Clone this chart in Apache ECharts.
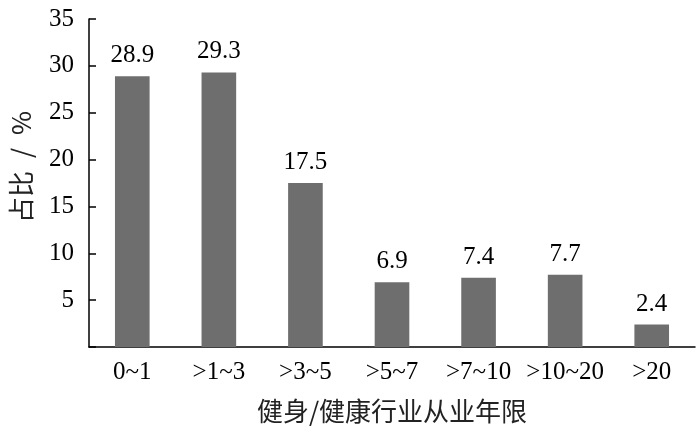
<!DOCTYPE html>
<html><head><meta charset="utf-8">
<script src="https://cdn.jsdelivr.net/npm/echarts@6/dist/echarts.min.js"></script>
<style>html,body{margin:0;padding:0;background:#fff}#c{width:700px;height:433px}</style>
</head><body><div id="c"></div>
<script>
const categories = ['0~1', '>1~3', '>3~5', '>5~7', '>7~10', '>10~20', '>20'];
const values = [28.9, 29.3, 17.5, 6.9, 7.4, 7.7, 2.4];
const yTicks = [0, 5, 10, 15, 20, 25, 30, 35];
const serif = '"Liberation Serif","Times New Roman",serif';
const cjk = '"Noto Sans CJK SC",sans-serif';
const chart = echarts.init(document.getElementById('c'), null, {renderer: 'canvas'});
chart.setOption({
  animation: false,
  grid: {left: 85, right: 5, top: 19, bottom: 86},
  xAxis: {
    type: 'category', data: categories,
    axisLine: {lineStyle: {color: '#000', width: 1.5}},
    axisTick: {inside: true, length: 7, alignWithLabel: false, lineStyle: {color: '#000', width: 1.5}},
    axisLabel: {color: '#000', fontFamily: serif, fontSize: 25, margin: 13, interval: 0},
    name: '健身/健康行业从业年限', nameLocation: 'middle', nameGap: 51,
    nameTextStyle: {color: '#222', fontFamily: cjk, fontSize: 26}
  },
  yAxis: {
    type: 'value', min: yTicks[0], max: yTicks[yTicks.length - 1], interval: 5,
    splitLine: {show: false},
    axisLine: {show: true, lineStyle: {color: '#000', width: 1.5}},
    axisTick: {show: true, inside: true, length: 7, lineStyle: {color: '#000', width: 1.5}},
    axisLabel: {color: '#000', fontFamily: serif, fontSize: 25, margin: 15,
      formatter: v => v === 0 ? '' : String(v)},
    name: '占比\u2002/\u2002%', nameLocation: 'middle', nameGap: 55, nameRotate: 90,
    nameTextStyle: {color: '#222', fontFamily: cjk, fontSize: 26, padding: [0, 0, 0, 32]}
  },
  series: [{
    type: 'bar', data: values, barWidth: '40%',
    itemStyle: {color: '#6e6e6e'},
    label: {show: true, position: 'top', distance: 8, color: '#000', fontFamily: serif, fontSize: 25,
      formatter: p => p.value.toFixed(1)}
  }]
});
</script></body></html>
